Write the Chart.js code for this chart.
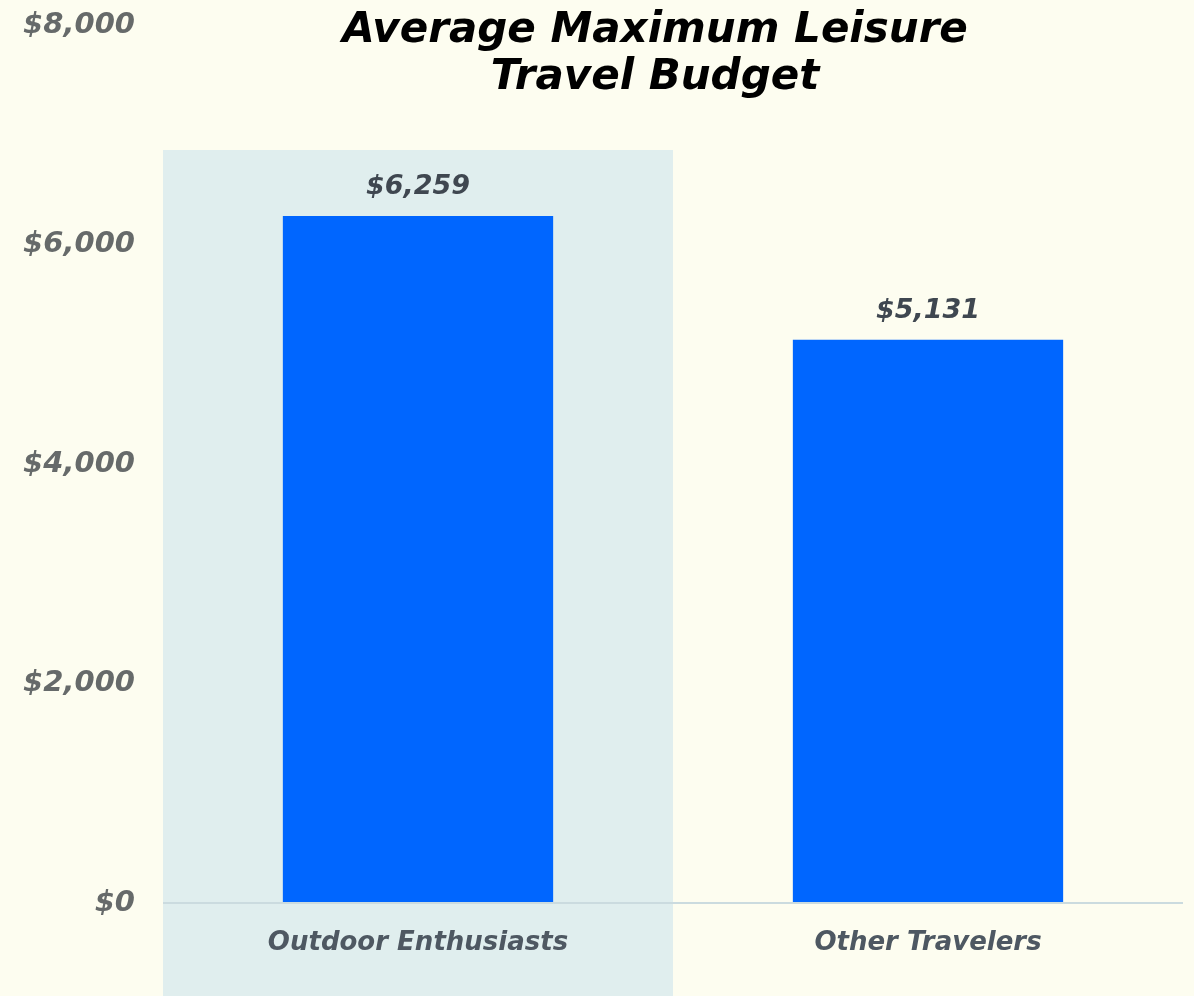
<!DOCTYPE html>
<html>
<head>
<meta charset="utf-8">
<script src="https://cdn.jsdelivr.net/npm/chart.js@4/dist/chart.umd.min.js"></script>
<style>
  html, body { margin: 0; padding: 0; background: #fdfdf0; }
  #wrap { width: 1194px; height: 996px; position: relative; }
</style>
</head>
<body>
<div id="wrap"><canvas id="Graf"></canvas></div>
<script>
var kategorier = ["Outdoor Enthusiasts", "Other Travelers"];
var budget = [6259, 5131];
var titel = ["Average Maximum Leisure", "Travel Budget"];
var yMax = 8000;
var yStep = 2000;

var baggrund = "#fdfdf0";
var fremhaevet = 0; // index of the shaded category

function kroner(v) {
    return "$" + v.toLocaleString("en-US");
}

// background + shaded column behind the first category
var baggrundPlugin = {
    id: "baggrund",
    beforeDraw: function (chart) {
        var ctx = chart.ctx;
        ctx.save();
        ctx.fillStyle = baggrund;
        ctx.fillRect(0, 0, chart.width, chart.height);
        var x = chart.scales.x;
        var bredde = x.width / kategorier.length;
        var midt = x.getPixelForValue(fremhaevet);
        ctx.fillStyle = "#e0eeee";
        ctx.fillRect(midt - bredde / 2, 150, bredde, chart.height - 150);
        ctx.restore();
    }
};

// title drawn inside the plot, level with the top tick
var titelPlugin = {
    id: "titel",
    afterDraw: function (chart) {
        var ctx = chart.ctx;
        ctx.save();
        ctx.fillStyle = "#000000";
        ctx.font = "italic bold 42px 'DejaVu Sans'";
        ctx.textAlign = "center";
        ctx.textBaseline = "alphabetic";
        ctx.fillText(titel[0], 655, 42);
        ctx.fillText(titel[1], 655, 89);
        ctx.restore();
    }
};

// value labels above the bars
var vaerdiPlugin = {
    id: "vaerdi",
    afterDatasetsDraw: function (chart) {
        var ctx = chart.ctx;
        var meta = chart.getDatasetMeta(0);
        ctx.save();
        ctx.fillStyle = "#3f4750";
        ctx.font = "italic bold 27px 'DejaVu Sans'";
        ctx.textAlign = "center";
        ctx.textBaseline = "middle";
        meta.data.forEach(function (bar, i) {
            ctx.fillText(kroner(budget[i]), bar.x, bar.y - 29);
        });
        ctx.restore();
    }
};

var graf = new Chart("Graf", {
    type: "bar",
    data: {
        labels: kategorier,
        datasets: [{
            data: budget,
            backgroundColor: "#0066ff",
            borderWidth: 0,
            barPercentage: 0.53,
            categoryPercentage: 1
        }]
    },
    plugins: [baggrundPlugin, titelPlugin, vaerdiPlugin],
    options: {
        responsive: true,
        maintainAspectRatio: false,
        animation: false,
        layout: {
            padding: { top: 25, right: 11, left: 0, bottom: 0 }
        },
        plugins: {
            legend: { display: false },
            tooltip: { enabled: false },
            title: { display: false }
        },
        scales: {
            x: {
                grid: { display: false },
                border: { display: false },
                ticks: {
                    color: "#4e5862",
                    padding: 17,
                    font: { family: "'DejaVu Sans'", size: 26, style: "italic", weight: "bold" }
                },
                afterFit: function (s) { s.height = 93; }
            },
            y: {
                min: 0,
                max: yMax,
                grid: {
                    drawTicks: false,
                    lineWidth: 2,
                    color: function (c) { return c.tick.value === 0 ? "#cbdbdf" : "rgba(0,0,0,0)"; }
                },
                border: { display: false },
                ticks: {
                    stepSize: yStep,
                    color: "#666a6a",
                    padding: 28,
                    font: { family: "'DejaVu Sans'", size: 29, style: "italic", weight: "bold" },
                    callback: function (v) { return kroner(v); }
                },
                afterFit: function (s) {
                    s.width = 163;
                    s.paddingTop = 0;
                    s.paddingBottom = 0;
                }
            }
        }
    }
});
</script>
</body>
</html>
